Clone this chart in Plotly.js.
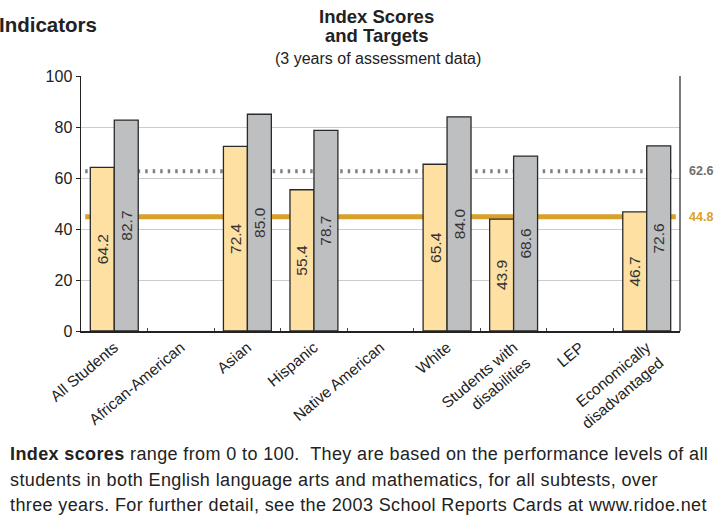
<!DOCTYPE html>
<html>
<head>
<meta charset="utf-8">
<script src="https://cdn.plot.ly/plotly-3.0.1.min.js"></script>
<style>
html,body{margin:0;padding:0;background:#fff;}
#chart{width:716px;height:518px;}
</style>
</head>
<body>
<div id="chart"></div>
<script>
// ---- data ----
const categories = [
  "All Students", "African-American", "Asian", "Hispanic", "Native American",
  "White", "Students with<br>disabilities", "LEP", "Economically<br>disadvantaged"
];
const indexScores = [64.2, null, 72.4, 55.4, null, 65.4, 43.9, null, 46.7];
const targets     = [82.7, null, 85.0, 78.7, null, 84.0, 68.6, null, 72.6];
const targetLineA = 62.6;   // dotted grey
const targetLineB = 44.8;   // solid gold
const yTicks = [0, 20, 40, 60, 80, 100];
const footerLines = [
  "<b>Index scores</b> range from 0 to 100.\u00a0 They are based on the performance levels of all",
  "students in both English language arts and mathematics, for all subtests, over",
  "three years. For further detail, see the 2003 School Reports Cards at www.ridoe.net"
];

const FONT = "Liberation Sans, Arial, Helvetica, sans-serif";
const fmt = v => (v === null ? "" : v.toFixed(1));

// plot area geometry (pixels) used for placing outside text
const L = 81, R = 680, T = 76, B = 331, W = 716, H = 518;
const px = x => (x - L) / (R - L);
const py = y => (B - y) / (B - T);

const traces = [
  {
    type: "bar", x: categories, y: indexScores,
    text: indexScores.map(fmt), textposition: "inside", insidetextanchor: "middle",
    textangle: -90, constraintext: "none",
    textfont: {family: FONT, size: 15.5, color: "#333"},
    marker: {color: "#FDE0A2", line: {color: "#2a2a2a", width: 1.3}},
    hoverinfo: "skip", showlegend: false
  },
  {
    type: "bar", x: categories, y: targets,
    text: targets.map(fmt), textposition: "inside", insidetextanchor: "middle",
    textangle: -90, constraintext: "none",
    textfont: {family: FONT, size: 15.5, color: "#333"},
    marker: {color: "#BEBFC1", line: {color: "#2a2a2a", width: 1.3}},
    hoverinfo: "skip", showlegend: false
  }
];

const footerY = [454, 479.5, 505];

const layout = {
  width: W, height: H,
  margin: {l: L, r: W - R, t: T, b: H - B, pad: 0},
  paper_bgcolor: "#fff", plot_bgcolor: "#fff",
  barmode: "group", bargap: 0.28, bargroupgap: 0,
  font: {family: FONT, color: "#222"},
  xaxis: {
    type: "category", tickangle: -40,
    tickfont: {family: FONT, size: 15.5, color: "#222"},
    showline: true, linecolor: "#222", linewidth: 1.5,
    ticks: "inside", ticklen: 3, tickcolor: "#444", tickson: "boundaries",
    showgrid: false, zeroline: false, fixedrange: true
  },
  yaxis: {
    range: [0, 100], tickvals: yTicks, ticktext: yTicks.map(String),
    tickfont: {family: FONT, size: 16, color: "#222"},
    showline: true, linecolor: "#222", linewidth: 1.5,
    ticks: "outside", ticklen: 4, tickcolor: "#222",
    showgrid: true, gridcolor: "#cccccc", gridwidth: 1,
    zeroline: false, fixedrange: true
  },
  shapes: [
    {type: "line", xref: "paper", yref: "y", x0: 0.007, x1: 0.986, y0: targetLineA, y1: targetLineA,
     line: {color: "#808080", width: 4, dash: "2.5px,5px"}, layer: "below"},
    {type: "line", xref: "paper", yref: "y", x0: 0.007, x1: 0.993, y0: targetLineB, y1: targetLineB,
     line: {color: "#D9A02A", width: 5}, layer: "below"},
    {type: "line", xref: "paper", yref: "paper", x0: 1, x1: 1, y0: 0, y1: 1,
     line: {color: "#222", width: 1.2}}
  ],
  annotations: [
    {xref: "paper", yref: "y", x: 1, y: targetLineA, xanchor: "left", yanchor: "middle", xshift: 7,
     text: "<b>" + targetLineA.toFixed(1) + "</b>", showarrow: false,
     font: {family: FONT, size: 12.5, color: "#6e6e6e"}},
    {xref: "paper", yref: "y", x: 1, y: targetLineB, xanchor: "left", yanchor: "middle", xshift: 7,
     text: "<b>" + targetLineB.toFixed(1) + "</b>", showarrow: false,
     font: {family: FONT, size: 12.5, color: "#D9A02A"}},
    {xref: "paper", yref: "paper", x: px(-3), y: py(24), xanchor: "left", yanchor: "middle",
     text: "<b>Indicators</b>", showarrow: false,
     font: {family: FONT, size: 20.5, color: "#222"}},
    {xref: "paper", yref: "paper", x: px(376), y: py(17), xanchor: "center", yanchor: "middle",
     text: "<b>Index Scores</b>", showarrow: false,
     font: {family: FONT, size: 18.5, color: "#222"}},
    {xref: "paper", yref: "paper", x: px(376), y: py(36), xanchor: "center", yanchor: "middle",
     text: "<b>and Targets</b>", showarrow: false,
     font: {family: FONT, size: 18.5, color: "#222"}},
    {xref: "paper", yref: "paper", x: px(378), y: py(58), xanchor: "center", yanchor: "middle",
     text: "(3 years of assessment data)", showarrow: false,
     font: {family: FONT, size: 16, color: "#222"}}
  ].concat(footerLines.map((t, i) => ({
     xref: "paper", yref: "paper", x: px(8), y: py(footerY[i]), xanchor: "left", yanchor: "middle",
     text: t, showarrow: false, font: {family: FONT, size: 18, color: "#222"}
  })))
};

Plotly.newPlot("chart", traces, layout, {staticPlot: true, displayModeBar: false}).then(() => {
  // slight tracking on the footer paragraph, as in the reference; keep left edge fixed
  const plain = footerLines.map(f => f.replace(/<[^>]+>/g, ""));
  document.querySelectorAll("#chart .annotation-text").forEach(el => {
    if (plain.indexOf(el.textContent) >= 0) {
      const bb = el.getBBox();
      el.setAttribute("text-anchor", "start");
      el.setAttribute("x", bb.x);
      el.style.letterSpacing = "0.38px";
    }
  });
});
</script>
</body>
</html>
